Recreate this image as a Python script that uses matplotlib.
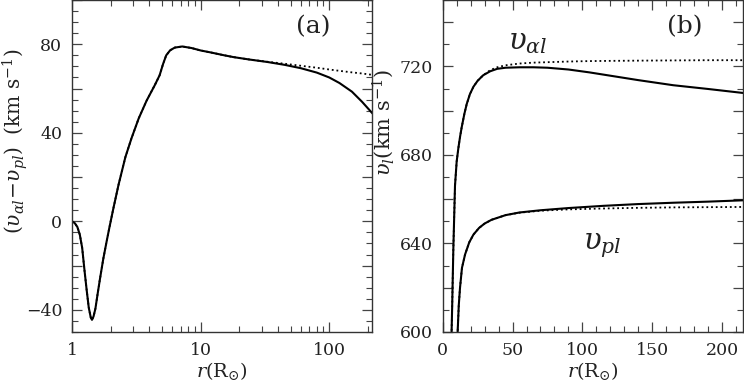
import numpy as np
import matplotlib
matplotlib.use('Agg')
import matplotlib.pyplot as plt
from matplotlib.ticker import MultipleLocator, FuncFormatter, LogLocator, FixedLocator

plt.rcParams['font.family'] = ['DejaVu Serif']
plt.rcParams['mathtext.fontset'] = 'custom'
plt.rcParams['mathtext.rm'] = 'DejaVu Serif'
plt.rcParams['mathtext.it'] = 'DejaVu Serif:italic'
plt.rcParams['mathtext.bf'] = 'DejaVu Serif:bold'

# panel (a): v_al - v_pl against r (log axis)
r_a = [1.0, 1.05, 1.1, 1.15, 1.2, 1.25, 1.3, 1.35, 1.4, 1.43, 1.47, 1.52, 1.58,
       1.65, 1.75, 1.86, 1.95, 2.1, 2.3, 2.6, 2.9, 3.3, 3.8, 4.4, 4.8, 5.1, 5.4,
       5.8, 6.3, 7.2, 8.5, 10, 12, 15, 18, 24, 33, 45, 60, 80, 100, 120, 150,
       180, 215]
dv_solid = [0, -0.8, -2.5, -6, -12, -22, -31, -39, -43.5, -44.5, -43, -39.5, -33,
            -26, -17, -9, -3, 6, 16.5, 29, 37.5, 46.5, 54.5, 61.5, 66, 71, 75,
            77.3, 78.5, 79, 78.3, 77.2, 76.3, 75.1, 74.2, 73.1, 72.0, 70.7, 69.2,
            67.2, 65.0, 62.5, 58.6, 54.0, 49.0]
dv_dotted = [0, -0.8, -2.5, -6, -12, -22, -31, -39, -43.5, -44.5, -43, -39.5, -33,
             -26, -17, -9, -3, 6, 16.5, 29, 37.5, 46.5, 54.5, 61.5, 66, 71, 75,
             77.3, 78.5, 79, 78.3, 77.2, 76.3, 75.1, 74.2, 73.1, 72.1, 71.2, 70.3,
             69.4, 68.6, 68.0, 67.3, 66.8, 66.2]

# panel (b): alpha and proton speeds against r (linear axis)
r_al = [6.0, 6.8, 7.6, 8.8, 10, 11.2, 12.5, 13.6, 15.5, 17.2, 19.5, 22, 25, 29,
        34, 39, 45, 55, 65, 75, 90, 105, 120, 140, 165, 190, 215]
v_al_solid = [590, 612, 637, 666, 677, 683, 688.5, 692.5, 698.5, 703, 707.5,
              710.8, 713.5, 716, 717.8, 718.9, 719.4, 719.6, 719.6, 719.4, 718.6,
              717.3, 715.8, 713.8, 711.5, 709.8, 708]
v_al_dotted = [590, 612, 637, 666, 677, 683, 688.5, 692.5, 698.5, 703, 707.5,
               710.8, 713.5, 716, 718.3, 719.6, 720.5, 721.3, 721.7, 721.9, 722.2,
               722.4, 722.5, 722.6, 722.7, 722.8, 722.8]

r_pl = [10.2, 10.7, 11.5, 12.4, 13.8, 16, 19, 22, 26, 30, 35, 45, 55, 70, 90,
        115, 140, 165, 190, 215]
v_pl_solid = [590, 600, 612, 620, 629, 635, 640.5, 644, 647, 649, 650.7, 652.8,
              654, 655, 656, 657, 657.8, 658.4, 658.9, 659.5]
v_pl_dotted = [590, 600, 612, 620, 629, 635, 640.5, 644, 647, 649, 650.7, 652.8,
               653.9, 654.8, 655.4, 655.8, 656.1, 656.3, 656.4, 656.5]

txt = '#222222'
fig = plt.figure(figsize=(7.44, 3.83), dpi=100)
ax1 = fig.add_axes([72 / 744, 51 / 383, 300 / 744, 332 / 383])
ax2 = fig.add_axes([442.7 / 744, 51 / 383, 300.3 / 744, 332 / 383])

dot = (0, (1, 1.6))
ax1.plot(r_a, dv_dotted, color='k', lw=1.3, ls=dot)
ax1.plot(r_a, dv_solid, color='k', lw=1.5)
ax1.set_xscale('log')
ax1.set_xlim(1, 215)
ax1.set_ylim(-50, 100)
ax1.yaxis.set_major_locator(MultipleLocator(20))
ax1.yaxis.set_minor_locator(MultipleLocator(5))
ax1.yaxis.set_major_formatter(FuncFormatter(
    lambda v, p: ('%d' % v).replace('-', '\u2212') if v % 40 == 0 else ''))
ax1.xaxis.set_major_locator(FixedLocator([1, 10, 100]))
ax1.xaxis.set_minor_locator(LogLocator(base=10, subs=np.arange(2, 10)))
ax1.xaxis.set_major_formatter(FuncFormatter(lambda v, p: '%d' % v))
ax1.text(0.805, 0.92, '(a)', transform=ax1.transAxes, fontsize=18,
         ha='center', va='center', color=txt)

ax2.plot(r_al, v_al_dotted, color='k', lw=1.3, ls=dot)
ax2.plot(r_al, v_al_solid, color='k', lw=1.5)
ax2.plot(r_pl, v_pl_dotted, color='k', lw=1.3, ls=dot)
ax2.plot(r_pl, v_pl_solid, color='k', lw=1.5)
ax2.set_xlim(0, 215)
ax2.set_ylim(600, 750)
ax2.xaxis.set_major_locator(MultipleLocator(50))
ax2.xaxis.set_minor_locator(MultipleLocator(10))
ax2.yaxis.set_major_locator(MultipleLocator(20))
ax2.yaxis.set_minor_locator(MultipleLocator(10))
ax2.yaxis.set_major_formatter(FuncFormatter(
    lambda v, p: '%d' % v if v % 40 == 0 else ''))
ax2.text(0.805, 0.92, '(b)', transform=ax2.transAxes, fontsize=18,
         ha='center', va='center', color=txt)
ax2.text(61, 731, r'$\upsilon_{\alpha l}$', fontsize=21, ha='center',
         va='center', color=txt)
ax2.text(114, 639, r'$\upsilon_{pl}$', fontsize=21, ha='center',
         va='center', color=txt)

for ax in (ax1, ax2):
    ax.tick_params(which='both', direction='in', top=True, right=True,
                   colors='#444444', labelcolor=txt, labelsize=12.5)
    ax.tick_params(which='major', length=7, width=0.9, pad=7)
    ax.tick_params(which='minor', length=4, width=0.8)
    for s in ax.spines.values():
        s.set_color('#333333')
        s.set_linewidth(1.0)

fig.text(0.021, 0.632, r'$(\upsilon_{\alpha l}\!-\!\upsilon_{pl})$  (km s$^{-1}$)',
         rotation=90, ha='center', va='center', fontsize=14.5, color=txt)
fig.text(383 / 744, 0.68, r'$\upsilon_l$(km s$^{-1}$)', rotation=90,
         ha='center', va='center', fontsize=15, color=txt)
fig.text(222 / 744, 0.031, r'$r(\mathrm{R}_{\odot})$', ha='center',
         va='center', fontsize=14, color=txt)
fig.text(593 / 744, 0.031, r'$r(\mathrm{R}_{\odot})$', ha='center',
         va='center', fontsize=14, color=txt)

fig.savefig('out.png', dpi=100)
